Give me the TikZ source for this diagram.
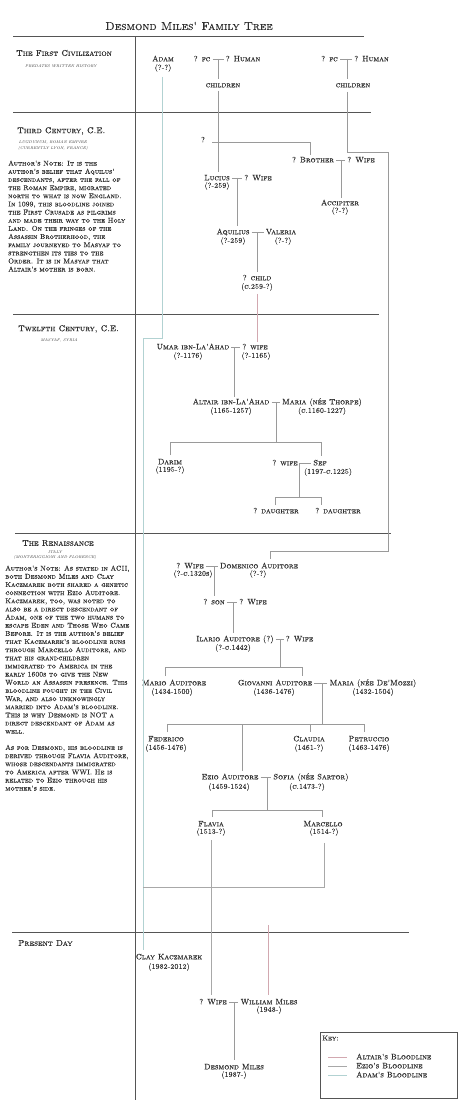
\documentclass[tikz,border=0pt]{standalone}
\usepackage{fontspec}
\newfontfamily\scf{lmromancaps10-regular.otf}[RawFeature={embolden=0.4}]
\usetikzlibrary{calc}
\definecolor{txt}{HTML}{303030}
\definecolor{rulec}{HTML}{555555}
\definecolor{conn}{HTML}{9A9A9A}
\definecolor{altairc}{HTML}{D2A8B0}
\definecolor{ezioc}{HTML}{A8A8A8}
\definecolor{adamc}{HTML}{B2D2D2}
\tikzset{
 nm/.style={font=\fontsize{7.8}{8}\scf, text=txt, inner sep=1pt, text height=5pt, text depth=0.4pt},
 dt/.style={font=\fontsize{7.3}{8}\scf, text=txt, inner sep=1pt},
 hd/.style={font=\fontsize{8.4}{9}\scf, text=txt, inner sep=0pt, anchor=west},
 subt/.style={font=\fontsize{3.9}{5.2}\selectfont\itshape, text=txt, inner sep=0pt, align=center},
 note/.style={font=\fontsize{7}{8.15}\scf, text=txt, inner sep=0pt, anchor=north west, align=left},
 secline/.style={draw=rulec, line width=1pt},
 ln/.style={draw=conn, line width=0.8pt},
 mar/.style={ln, shorten <=1pt, shorten >=1pt},
 vd/.style={ln, shorten <=2pt, shorten >=2pt},
 altln/.style={draw=altairc, line width=0.75pt},
 ezln/.style={draw=ezioc, line width=0.8pt},
 adln/.style={draw=adamc, line width=0.9pt},
}
\begin{document}
\begin{tikzpicture}[x=1pt,y=-1pt]
\useasboundingbox[fill=white] (0,0) rectangle (474,1102);

% title
\node[font=\fontsize{11.5}{13}\scf, text=txt, inner sep=0pt] (title) at (189,26) {Desmond Miles' Family Tree};

% section rules
\coordinate (s1a) at (13,37);  \coordinate (s1b) at (364,37);
\coordinate (s2a) at (13,113); \coordinate (s2b) at (371,113);
\coordinate (s3a) at (13,314); \coordinate (s3b) at (379,314);
\coordinate (s4a) at (15,533); \coordinate (s4b) at (391,533);
\coordinate (s5a) at (12,932); \coordinate (s5b) at (409,932);
\coordinate (vt) at (135,37);  \coordinate (vb) at (135,1100);
\draw[secline] (s1a) -- (s1b);
\draw[secline] (s2a) -- (s2b);
\draw[secline] (s3a) -- (s3b);
\draw[secline] (s4a) -- (s4b);
\draw[secline] (s5a) -- (s5b);
\draw[secline] (vt) -- (vb);

% headings
\node[hd] (h1) at (16,53) {The First Civilization};
\node[subt] (h1s) at (61,66) {PREDATES WRITTEN HISTORY};
\node[hd] (h2) at (17,131) {Third Century, C.E.};
\node[subt] (h2s) at (53,145.5) {LUGDUNUM, ROMAN EMPIRE\\(CURRENTLY LYON, FRANCE)};
\node[note] (n1) at (8,160.4) {Author's Note: It is the\\
author's belief that Aquilus'\\
descendants, after the fall of\\
the Roman Empire, migrated\\
north to what is now England.\\
In 1099, this bloodline joined\\
the First Crusade as pilgrims\\
and made their way to the Holy\\
Land. On the fringes of the\\
Assassin Brotherhood, the\\
family journeyed to Masyaf to\\
strengthen its ties to the\\
Order. It is in Masyaf that\\
Altair's mother is born.};
\node[hd] (h3) at (18,329) {Twelfth Century, C.E.};
\node[subt] (h3s) at (59,340) {MASYAF, SYRIA};
\node[hd] (h4) at (22,543) {The Renaissance};
\node[subt] (h4s) at (55,555) {ITALY\\(MONTERIGGIONI AND FLORENCE)};
\node[note] (n2) at (5,565.4) {Author's Note: As stated in ACII,\\
both Desmond Miles and Clay\\
Kaczmarek both shared a genetic\\
connection with Ezio Auditore.\\
Kaczmarek, too, was noted to\\
also be a direct descendant of\\
Adam, one of the two humans to\\
escape Eden and Those Who Came\\
Before. It is the author's belief\\
that Kaczmarek's bloodline runs\\
through Marcello Auditore, and\\
that his grandchildren\\
immigrated to America in the\\
early 1600s to give the New\\
World an Assassin presence. This\\
bloodline fought in the Civil\\
War, and also unknowingly\\
married into Adam's bloodline.\\
This is why Desmond is NOT a\\
direct descendant of Adam as\\
well.\\[8.15pt]
As for Desmond, his bloodline is\\
derived through Flavia Auditore,\\
whose descendants immigrated\\
to America after WWI. He is\\
related to Ezio through his\\
mother's side.};
\node[hd] (h5) at (18,943) {Present Day};

% ---------- First Civilization
\node[nm] (adam) at (163,59) {Adam};
\node[dt] (adamd) at (163,68) {(?-?)};
\node[nm] (fc1) at (202,59) {? fc};
\node[nm] (hum1) at (243,59) {? Human};
\node[nm] (ch1) at (223,85) {children};
\node[nm] (fc2) at (329.5,59) {? fc};
\node[nm] (hum2) at (371.5,59) {? Human};
\node[nm] (ch2) at (353,85) {children};
\draw[mar] (fc1) -- (hum1);
\draw[mar] (fc2) -- (hum2);
\coordinate (m1) at (218,59);
\coordinate (m2) at (347,59);
\draw[ln] (m1) -- ([yshift=2pt]m1 |- ch1.north);
\draw[ln] (m2) -- ([yshift=2pt]m2 |- ch2.north);

% ---------- Third Century
\node[nm] (q) at (203,140) {?};
\node[nm] (brother) at (313,160) {? Brother};
\node[nm] (bwife) at (361,160) {? Wife};
\node[nm] (accip) at (340,203) {Accipiter};
\node[dt] (accipd) at (340,211) {(?-?)};
\node[nm] (lucius) at (217,178) {Lucius};
\node[dt] (luciusd) at (217,186) {(?-259)};
\node[nm] (lwife) at (258,178) {? Wife};
\node[nm] (aquil) at (233,232) {Aquilius};
\node[dt] (aquild) at (233,241) {(?-259)};
\node[nm] (valeria) at (281,232) {Valeria};
\node[dt] (valeriad) at (283,241) {(?-?)};
\node[nm] (child) at (257,278) {? child};
\node[dt] (childd) at (257,287) {(c.259-?)};

\draw[vd] (m1 |- ch1.south) -- (m1 |- lucius.north);
\coordinate (qb) at (310,142);
\draw[ln] ([xshift=6pt]q.east |- qb) -- (qb) -- ([yshift=1pt]qb |- brother.north);
\draw[mar] (brother) -- (bwife);
\coordinate (m3) at (341,160);
\draw[ln] (m3) -- ([yshift=1pt]m3 |- accip.north);
\draw[mar] (lucius) -- (lwife);
\coordinate (m4) at (237,178);
\draw[ln] (m4) -- ([yshift=2pt]m4 |- aquil.north);
\draw[mar] (aquil) -- (valeria);
\coordinate (m5) at (257,232);
\draw[ln] (m5) -- ([yshift=2pt]m5 |- child.north);

% ---------- Twelfth Century
\node[nm] (umar) at (193,347) {Umar ibn-La'Ahad};
\node[dt] (umard) at (188,356) {(?-1176)};
\node[nm] (uwife) at (255,347) {? wife};
\node[dt] (uwifed) at (256,356) {(?-1165)};
\node[nm] (altair) at (231,402) {Altair ibn-La'Ahad};
\node[dt] (altaird) at (231,411) {(1165-1257)};
\node[nm] (maria) at (322,402) {Maria (née Thorpe)};
\node[dt] (mariad) at (322,411) {(c.1160-1227)};
\node[nm] (darim) at (170,462) {Darim};
\node[dt] (darimd) at (170,470) {(1195-?)};
\node[nm] (swife) at (285,463) {? wife};
\node[nm] (sef) at (320,463) {Sef};
\node[dt] (sefd) at (328,472) {(1197-c.1225)};
\node[nm] (dau1) at (276,511) {? daughter};
\node[nm] (dau2) at (338,511) {? daughter};

\draw[altln] ([yshift=-2pt]childd.south) -- ([yshift=1pt]childd.south |- uwife.north);
\draw[mar] (umar) -- (uwife);
\coordinate (m6) at (234,347);
\draw[ln] (m6) -- ([yshift=1pt]m6 |- altair.north);
\draw[mar] (altair) -- (maria);
\coordinate (m7) at (276,402);
\coordinate (b1) at (276,442);
\coordinate (b1l) at (170,442);
\coordinate (b1r) at (321,442);
\draw[ln] (m7) -- (b1);
\draw[ln] ([yshift=3pt]b1l |- darim.north) -- (b1l) -- (b1r) -- ([yshift=3pt]b1r |- sef.north);
\draw[mar] (swife) -- (sef);
\coordinate (m8) at (299,463);
\coordinate (b2) at (299,497);
\coordinate (b2l) at (275,497);
\coordinate (b2r) at (321,497);
\draw[ln] (m8) -- (b2);
\draw[ln] ([yshift=2pt]b2l |- dau1.north) -- (b2l) -- (b2r) -- ([yshift=2pt]b2r |- dau2.north);

% ---------- Renaissance
\node[nm] (rwife) at (190,566) {? Wife};
\node[dt] (rwifed) at (193,574) {(?-c.1320s)};
\node[nm] (domenico) at (259,566) {Domenico Auditore};
\node[dt] (domenicod) at (258,574) {(?-?)};
\node[nm] (son) at (214,602) {? son};
\node[nm] (sonwife) at (253,602) {? Wife};
\node[nm] (ilario) at (235,639) {Ilario Auditore (?)};
\node[dt] (ilariod) at (233,648) {(?-c.1442)};
\node[nm] (iwife) at (299.5,639) {? Wife};
\node[nm] (mario) at (174,683) {Mario Auditore};
\node[dt] (mariod) at (172,692) {(1434-1500)};
\node[nm] (giov) at (275,683) {Giovanni Auditore};
\node[dt] (giovd) at (274,692) {(1436-1476)};
\node[nm] (gmaria) at (373,683) {Maria (née De'Mozzi)};
\node[dt] (gmariad) at (373,692) {(1432-1504)};
\node[nm] (feder) at (166,739) {Federico};
\node[dt] (federd) at (166,748) {(1456-1476)};
\node[nm] (claud) at (309,739) {Claudia};
\node[dt] (claudd) at (309,748) {(1461-?)};
\node[nm] (petr) at (369,739) {Petruccio};
\node[dt] (petrd) at (369,748) {(1463-1476)};
\node[nm] (ezio) at (230,777) {Ezio Auditore};
\node[dt] (eziod) at (229,787) {(1459-1524)};
\node[nm] (sofia) at (311,777) {Sofia (née Sartor)};
\node[dt] (sofiad) at (307,787) {(c.1473-?)};
\node[nm] (flavia) at (211,824) {Flavia};
\node[dt] (flaviad) at (211,832) {(1513-?)};
\node[nm] (marcello) at (323,824) {Marcello};
\node[dt] (marcellod) at (324,832) {(1514-?)};

\coordinate (r0) at (347,152);
\coordinate (r1) at (388,152);
\coordinate (r2) at (388,551);
\coordinate (r3) at (270,551);
\draw[ln] ([yshift=-3pt]r0 |- ch2.south) -- (r0) -- (r1) -- (r2) -- (r3) -- ([yshift=3pt]r3 |- domenico.north);

\draw[mar] (rwife) -- (domenico);
\coordinate (m9) at (214,566);
\draw[ln] (m9) -- ([yshift=2pt]m9 |- son.north);
\draw[mar] (son) -- (sonwife);
\coordinate (m10) at (233,602);
\draw[ln] (m10) -- ([yshift=2pt]m10 |- ilario.north);
\draw[mar] (ilario) -- (iwife);
\coordinate (m11) at (280,639);
\coordinate (b3) at (280,667);
\coordinate (b3l) at (165,667);
\coordinate (b3r) at (302,667);
\draw[ln] (m11) -- (b3);
\draw[ln] ([yshift=3pt]b3l |- mario.north) -- (b3l) -- (b3r) -- ([yshift=3pt]b3r |- giov.north);
\draw[mar] (giov) -- (gmaria);
\coordinate (m12) at (322,683);
\coordinate (b4) at (322,724);
\coordinate (b4a) at (167,724);
\coordinate (b4b) at (242,724);
\coordinate (b4c) at (310,724);
\coordinate (b4d) at (364,724);
\draw[ln] (m12) -- (b4);
\draw[ln] ([yshift=3pt]b4a |- feder.north) -- (b4a) -- (b4d) -- ([yshift=3pt]b4d |- petr.north);
\draw[ln] (b4b) -- ([yshift=2pt]b4b |- ezio.north);
\draw[ln] (b4c) -- ([yshift=3pt]b4c |- claud.north);
\draw[mar] (ezio) -- (sofia);
\coordinate (m13) at (267,777);
\coordinate (b5) at (267,810);
\coordinate (b5l) at (212,810);
\coordinate (b5r) at (322,810);
\draw[ln] (m13) -- (b5);
\draw[ln] ([yshift=3pt]b5l |- flavia.north) -- (b5l) -- (b5r) -- ([yshift=3pt]b5r |- marcello.north);

% ---------- Present Day
\node[nm] (clay) at (169,957) {Clay Kaczmarek};
\node[dt] (clayd) at (169,967) {(1982-2012)};
\node[nm] (mwife) at (213,1002) {? Wife};
\node[nm] (william) at (269,1002) {William Miles};
\node[dt] (williamd) at (269,1010) {(1948-)};
\node[nm] (desmond) at (234,1067) {Desmond Miles};
\node[dt] (desmondd) at (234,1075) {(1987-)};

% bloodlines
\coordinate (a1) at (162,338);
\coordinate (a2) at (143,338);
\coordinate (mc1) at (324,887);
\coordinate (mc2) at (143,887);
\draw[adln] ([yshift=-4pt]a1 |- adamd.south) -- (a1) -- (a2) -- ([yshift=3pt]a2 |- clay.north);
\draw[ezln] ([yshift=-6pt]mc1 |- marcellod.south) -- (mc1) -- (mc2);
\coordinate (fl) at (211,840);
\draw[ezln] (fl) -- ([yshift=3pt]fl |- mwife.north);
\coordinate (wm) at (268,925);
\draw[altln] (wm) -- ([yshift=3pt]wm |- william.north);
\draw[mar] (mwife) -- (william);
\coordinate (m14) at (234,1002);
\draw[ln] (m14) -- ([yshift=3pt]m14 |- desmond.north);

% key
\node[draw=rulec, line width=1.2pt, minimum width=137pt, minimum height=66pt, anchor=north west, inner sep=0pt] (key) at (320,1032) {};
\node[font=\fontsize{7}{8}\scf, text=txt, inner sep=0pt, anchor=west] (keyt) at (322,1038) {Key:};
\coordinate (k1a) at (328,1057); \coordinate (k1b) at (347,1057);
\coordinate (k2a) at (328,1066); \coordinate (k2b) at (347,1066);
\coordinate (k3a) at (328,1075); \coordinate (k3b) at (347,1075);
\draw[altln] (k1a) -- (k1b);
\draw[ezln] (k2a) -- (k2b);
\draw[adln] (k3a) -- (k3b);
\node[nm, anchor=west] (kl1) at (355,1057) {Altair's Bloodline};
\node[nm, anchor=west] (kl2) at (355,1066) {Ezio's Bloodline};
\node[nm, anchor=west] (kl3) at (355,1075) {Adam's Bloodline};
\end{tikzpicture}
\end{document}
